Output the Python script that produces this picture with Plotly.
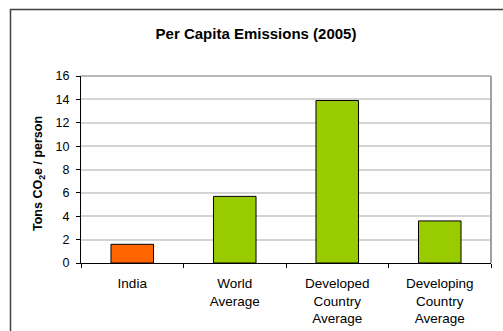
import plotly.graph_objects as go

categories = ["India", "World Average", "Developed Country Average", "Developing Country Average"]
tick_labels = ["India", "World<br>Average", "Developed<br>Country<br>Average", "Developing<br>Country<br>Average"]
values = [1.6, 5.7, 13.9, 3.6]
colors = ["#FF6600", "#99CC00", "#99CC00", "#99CC00"]
y_ticks = [0, 2, 4, 6, 8, 10, 12, 14, 16]

W, H = 503, 331
L, R, T, B = 81, 12, 76, 68

fig = go.Figure(go.Bar(
    x=categories, y=values,
    marker=dict(color=colors, line=dict(color="#000000", width=1)),
    width=0.415,
))

pw = W - L - R
ph = H - T - B

fig.update_layout(
    width=W, height=H,
    margin=dict(l=L, r=R, t=T, b=B, pad=0, autoexpand=False),
    paper_bgcolor="white", plot_bgcolor="white",
    font=dict(family="Liberation Sans, Arial, sans-serif", size=12, color="#000000"),
    showlegend=False,
    title=dict(text="<b>Per Capita Emissions (2005)</b>", x=256 / W, xanchor="center",
               y=1 - 34 / H, yanchor="middle", font=dict(size=15)),
    xaxis=dict(
        tickmode="array", tickvals=categories, ticktext=tick_labels,
        tickson="boundaries", ticks="outside", ticklen=4, tickcolor="#000000",
        showline=True, linecolor="#000000", linewidth=1,
        showgrid=False, tickfont=dict(size=13.5), ticklabelstandoff=8,
        automargin=False,
    ),
    yaxis=dict(
        range=[0, 16], tickvals=y_ticks, ticks="outside", ticklen=4, tickcolor="#000000",
        showline=True, linecolor="#000000", linewidth=1,
        showgrid=True, gridcolor="#D4D4D4", gridwidth=1.5,
        tickfont=dict(size=12.5), ticklabelstandoff=4,
        zeroline=False, automargin=False,
    ),
    annotations=[
        dict(text="<b>Tons CO<sub>2</sub>e / person</b>", textangle=-90,
             xref="paper", yref="paper", x=(39 - L) / pw, y=(T + ph - 174) / ph,
             xanchor="center", yanchor="middle", showarrow=False,
             font=dict(size=12.5)),
    ],
    shapes=[
        dict(type="line", xref="paper", yref="paper", x0=0, x1=1, y0=1, y1=1,
             line=dict(color="#A0A0A0", width=1.5)),
        dict(type="line", xref="paper", yref="paper", x0=1, x1=1, y0=0, y1=1,
             line=dict(color="#A0A0A0", width=2)),
        dict(type="rect", xref="paper", yref="paper",
             x0=(10.5 - L) / pw, x1=(W + 20 - L) / pw,
             y0=-(H + 20 - (T + ph)) / ph, y1=1 + (T - 9.5) / ph,
             line=dict(color="#404040", width=1.5), layer="above"),
    ],
)

fig.write_html("out.html")
